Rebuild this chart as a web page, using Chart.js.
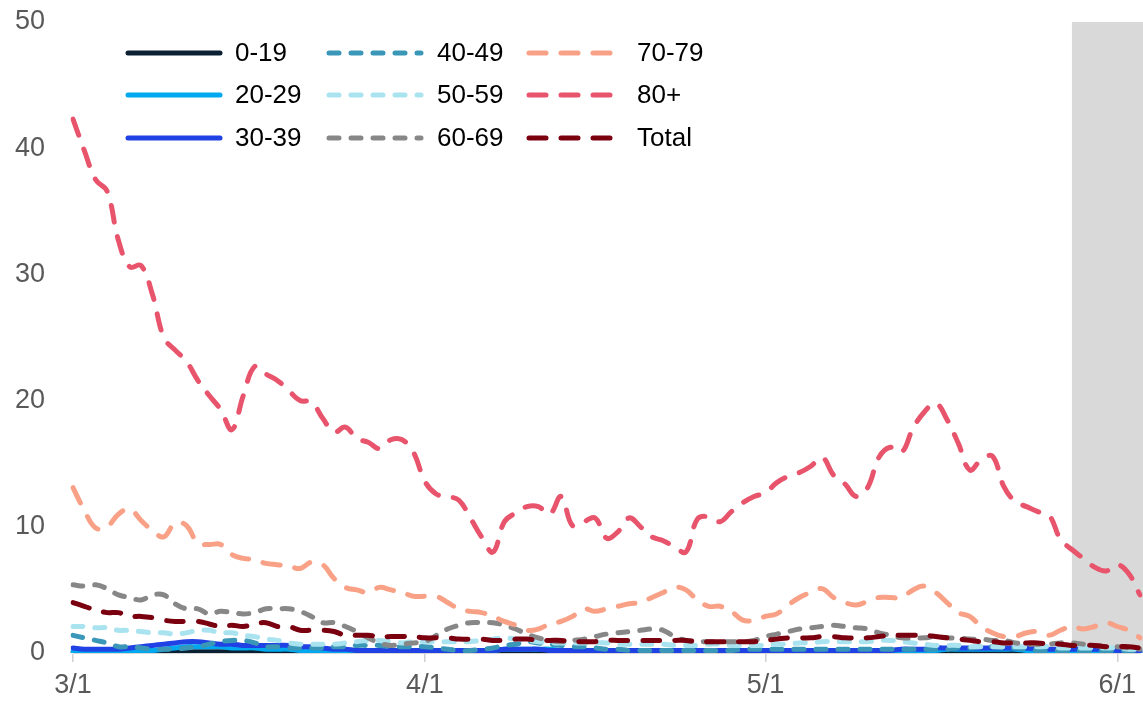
<!DOCTYPE html>
<html>
<head>
<meta charset="utf-8">
<script src="https://cdn.jsdelivr.net/npm/chart.js@4/dist/chart.umd.min.js"></script>
<style>
  html, body { margin: 0; padding: 0; background: #ffffff; }
  #wrap { position: relative; width: 1143px; height: 702px; }
</style>
</head>
<body>
<div id="wrap"><canvas id="c"></canvas></div>
<script>
// Daily dates, 3/1 through 6/3
const monthSpans = [[3, 31], [4, 30], [5, 31], [6, 3]];
const dates = [];
monthSpans.forEach(([m, n]) => { for (let d = 1; d <= n; d++) dates.push(m + '/' + d); });

// Labelled ticks on the date axis
const tickLabels = ['3/1', '4/1', '5/1', '6/1'];
// Start of the shaded (incomplete) period
const shadedFrom = '5/28';

const seriesNames = ['0-19', '20-29', '30-39', '40-49', '50-59', '60-69', '70-79', '80+', 'Total'];

const age0_19 = [0.1,0.1,0.1,0.1,0.1,0.1,0.1,0.1,0.1,0.1, 0.1,0.1,0.1,0.1,0.1,0.1,0.1,0.1,0.1,0.1,
  0.1,0.1,0.1,0.1,0.1,0.1,0.1,0.1,0.1,0.1, 0.1,0.1,0.1,0.1,0.1,0.1,0.1,0.1,0.1,0.1,
  0.1,0.1,0.1,0.1,0.1,0.1,0.1,0.1,0.1,0.1, 0.1,0.1,0.1,0.1,0.1,0.1,0.1,0.1,0.1,0.1,
  0.1,0.1,0.1,0.1,0.1,0.1,0.1,0.1,0.1,0.1, 0.1,0.1,0.1,0.1,0.1,0.1,0.1,0.1,0.1,0.1,
  0.1,0.1,0.1,0.1,0.1,0.1,0.1,0.0,0.0,0.0, 0.0,0.0,0.0,0.0,0.0];
const age20_29 = [0.1,0.1,0.1,0.1,0.1,0.1,0.2,0.2,0.3,0.4, 0.5,0.5,0.5,0.5,0.4,0.4,0.4,0.3,0.3,0.3,
  0.2,0.2,0.2,0.2,0.1,0.1,0.1,0.1,0.1,0.1, 0.1,0.1,0.1,0.1,0.1,0.1,0.1,0.2,0.3,0.3,
  0.3,0.3,0.3,0.2,0.2,0.2,0.1,0.1,0.1,0.1, 0.1,0.1,0.1,0.1,0.1,0.1,0.1,0.1,0.1,0.1,
  0.1,0.1,0.1,0.1,0.1,0.1,0.1,0.1,0.1,0.1, 0.1,0.1,0.1,0.1,0.1,0.2,0.2,0.3,0.3,0.3,
  0.3,0.3,0.3,0.3,0.2,0.2,0.2,0.2,0.2,0.2, 0.2,0.2,0.2,0.2,0.1];
const age30_39 = [0.4,0.3,0.3,0.3,0.3,0.4,0.5,0.6,0.7,0.8, 0.9,0.9,0.8,0.7,0.7,0.6,0.6,0.6,0.6,0.6,
  0.5,0.5,0.4,0.3,0.3,0.2,0.2,0.2,0.2,0.2, 0.2,0.2,0.2,0.2,0.2,0.2,0.2,0.2,0.3,0.3,
  0.3,0.3,0.2,0.2,0.2,0.2,0.2,0.2,0.2,0.2, 0.2,0.2,0.2,0.2,0.2,0.2,0.2,0.2,0.2,0.2,
  0.2,0.2,0.2,0.2,0.2,0.2,0.2,0.2,0.2,0.2, 0.2,0.2,0.2,0.3,0.3,0.3,0.4,0.4,0.4,0.4,
  0.4,0.4,0.4,0.4,0.4,0.3,0.3,0.3,0.3,0.3, 0.3,0.3,0.2,0.2,0.2];
const age40_49 = [1.4,1.2,1.0,0.8,0.5,0.5,0.4,0.3,0.3,0.3, 0.4,0.5,0.7,0.9,1.0,1.0,0.8,0.5,0.5,0.4,
  0.4,0.4,0.4,0.5,0.5,0.6,0.6,0.6,0.5,0.5, 0.5,0.5,0.4,0.3,0.2,0.2,0.3,0.4,0.6,0.7,
  0.9,0.8,0.7,0.6,0.5,0.5,0.4,0.3,0.3,0.2, 0.2,0.2,0.2,0.2,0.2,0.2,0.2,0.2,0.2,0.3,
  0.3,0.3,0.3,0.3,0.3,0.3,0.3,0.3,0.3,0.3, 0.3,0.3,0.3,0.3,0.3,0.3,0.3,0.3,0.4,0.4,
  0.5,0.5,0.4,0.4,0.3,0.2,0.2,0.2,0.2,0.2, 0.2,0.2,0.2,0.2,0.2];
const age50_59 = [2.1,2.1,2.0,2.0,1.8,1.8,1.7,1.6,1.6,1.5, 1.6,1.8,1.8,1.6,1.6,1.4,1.3,1.1,1.0,0.8,
  0.7,0.7,0.7,0.7,0.8,0.9,1.0,1.0,0.9,0.8, 0.9,0.9,0.9,0.9,0.9,0.9,1.0,1.1,1.2,1.1,
  1.0,0.9,0.8,0.8,0.8,0.8,0.8,0.8,0.7,0.7, 0.7,0.7,0.7,0.6,0.6,0.6,0.7,0.7,0.6,0.6,
  0.6,0.6,0.7,0.7,0.8,0.8,0.9,0.9,0.9,0.9, 0.9,1.0,1.0,0.9,0.8,0.7,0.6,0.6,0.6,0.5,
  0.5,0.5,0.5,0.5,0.5,0.5,0.5,0.4,0.4,0.4, 0.4,0.4,0.4,0.3,0.3];
const age60_69 = [5.4,5.3,5.4,5.1,4.6,4.4,4.2,4.6,4.6,3.9, 3.5,3.5,3.1,3.3,3.2,3.1,3.2,3.5,3.5,3.5,
  3.3,2.9,2.4,2.4,2.1,1.7,1.2,0.8,0.6,0.7, 0.8,0.9,1.4,1.9,2.2,2.4,2.4,2.4,2.2,1.9,
  1.5,1.2,1.0,0.9,1.0,1.1,1.3,1.5,1.6,1.7, 1.8,1.9,1.8,1.3,1.0,0.9,0.9,0.9,0.9,0.9,
  1.0,1.3,1.5,1.7,1.9,2.0,2.1,2.2,2.1,2.0, 1.9,1.6,1.4,1.2,1.2,1.2,1.3,1.2,1.2,1.1,
  1.1,1.0,1.0,0.8,0.7,0.7,0.7,0.8,0.8,0.7, 0.6,0.5,0.5,0.4,0.3];
const age70_79 = [13.1,11.3,9.9,10.0,11.0,11.4,10.5,9.7,9.2,10.3, 10.1,8.7,8.6,8.6,7.8,7.5,7.4,7.1,7.0,6.9,
  6.7,7.2,7.0,5.9,5.2,5.0,4.8,5.2,5.0,4.8, 4.5,4.5,4.5,4.0,3.5,3.3,3.2,2.9,2.5,2.2,
  1.8,1.9,2.3,2.5,2.9,3.5,3.3,3.5,3.7,3.9, 4.0,4.4,4.8,5.2,5.0,4.2,3.7,3.7,3.3,2.6,
  2.6,2.9,3.1,3.8,4.4,4.8,5.1,4.4,4.0,3.8, 4.1,4.4,4.4,4.4,5.0,5.3,4.8,4.0,3.2,2.9,
  2.1,1.6,1.3,1.3,1.6,1.7,1.4,1.8,2.1,1.9, 2.1,2.4,2.1,1.8,1.2];
const age80plus = [42.3,39.8,37.5,36.6,32.7,30.6,30.7,28.4,25.0,24.0, 23.1,21.6,20.4,19.3,17.7,20.4,22.7,22.1,21.6,20.8,
  20.0,19.9,18.6,17.5,17.9,17.0,16.7,16.2,16.9,16.9, 15.9,13.6,12.6,12.4,12.1,10.7,9.2,8.0,10.4,11.1,
  11.6,11.6,11.0,12.4,10.1,10.4,10.7,9.1,9.6,10.7, 10.0,9.2,8.9,8.4,8.0,10.6,10.8,10.4,11.2,11.9,
  12.4,12.7,13.5,14.0,14.3,14.8,15.5,14.1,13.4,12.4, 13.1,15.5,16.3,15.9,17.8,19.1,19.8,18.5,16.6,14.5,
  15.3,15.6,13.2,12.0,11.6,11.2,10.9,9.0,8.2,7.5, 6.8,6.5,7.0,6.3,4.6];
const total = [4.0,3.7,3.4,3.2,3.2,2.9,2.9,2.8,2.6,2.5, 2.5,2.5,2.3,2.1,2.2,2.1,2.3,2.4,2.1,2.1,
  1.8,1.8,1.8,1.7,1.4,1.4,1.4,1.3,1.3,1.3, 1.3,1.2,1.2,1.2,1.1,1.1,1.1,1.0,1.0,1.1,
  1.1,1.0,1.0,1.0,0.9,0.9,0.9,1.0,1.0,1.0, 1.0,1.0,1.0,1.0,1.0,0.9,0.9,0.9,0.9,0.9,
  0.9,1.0,1.1,1.2,1.2,1.2,1.3,1.3,1.2,1.2, 1.2,1.3,1.4,1.4,1.4,1.4,1.3,1.2,1.1,1.0,
  0.9,0.9,0.8,0.8,0.8,0.8,0.7,0.7,0.6,0.6, 0.6,0.5,0.5,0.5,0.4];

const seriesValues = [age0_19, age20_29, age30_39, age40_49, age50_59, age60_69, age70_79, age80plus, total];

const FONT = '"Liberation Sans", Arial, sans-serif';
const solid = [];
const shortDash = [10, 12];
const longDash = [17, 15];
const styles = [
  { color: '#0b2033', dash: solid },
  { color: '#00a9ef', dash: solid },
  { color: '#2041e3', dash: solid },
  { color: '#3b97b7', dash: shortDash },
  { color: '#a9e3ef', dash: shortDash },
  { color: '#878787', dash: shortDash },
  { color: '#f9a187', dash: longDash },
  { color: '#e8546c', dash: longDash },
  { color: '#7a0010', dash: longDash }
];

const datasets = seriesNames.map((name, i) => ({
  label: name,
  data: seriesValues[i],
  borderColor: styles[i].color,
  backgroundColor: styles[i].color,
  borderDash: styles[i].dash,
  borderWidth: 5,
  borderCapStyle: 'round',
  borderJoinStyle: 'round',
  pointRadius: 0,
  pointHoverRadius: 0,
  tension: 0.4,
  fill: false,
  order: seriesNames.length - 1 - i
}));

// Grey band over the most recent, still-incomplete days
const shadePlugin = {
  id: 'shade',
  beforeDatasetsDraw(chart) {
    const { ctx, chartArea, scales } = chart;
    const x0 = scales.x.getPixelForValue(dates.indexOf(shadedFrom));
    ctx.save();
    ctx.fillStyle = '#d9d9d9';
    ctx.fillRect(x0, chartArea.top, chart.width - x0, chartArea.bottom - chartArea.top);
    ctx.restore();
  }
};

// Three-column legend in the upper-left corner
const gridLegend = {
  id: 'gridLegend',
  afterDraw(chart) {
    const ctx = chart.ctx;
    const cols = [{ lineX: 128, textX: 235 }, { lineX: 329, textX: 437 }, { lineX: 529, textX: 637 }];
    const rows = [53, 95, 138];
    const len = 92;
    chart.data.datasets.forEach((ds, i) => {
      const c = cols[Math.floor(i / 3)];
      const y = rows[i % 3];
      ctx.save();
      ctx.strokeStyle = ds.borderColor;
      ctx.lineWidth = ds.borderWidth;
      ctx.lineCap = 'round';
      ctx.setLineDash(ds.borderDash);
      ctx.beginPath();
      ctx.moveTo(c.lineX, y);
      ctx.lineTo(c.lineX + len, y);
      ctx.stroke();
      ctx.setLineDash([]);
      ctx.fillStyle = '#000000';
      ctx.font = '26px ' + FONT;
      ctx.textBaseline = 'middle';
      ctx.textAlign = 'left';
      ctx.fillText(ds.label, c.textX, y + 1);
      ctx.restore();
    });
  }
};

new Chart(document.getElementById('c'), {
  type: 'line',
  data: { labels: dates, datasets },
  plugins: [shadePlugin, gridLegend],
  options: {
    responsive: true,
    maintainAspectRatio: false,
    animation: false,
    events: [],
    layout: { padding: { top: 22, right: 3, bottom: 0, left: 0 } },
    plugins: { legend: { display: false }, tooltip: { enabled: false } },
    scales: {
      x: {
        type: 'category',
        offset: false,
        afterFit(scale) { scale.height = 49; scale.paddingLeft = 0; scale.paddingRight = 0; },
        grid: { drawOnChartArea: false, drawTicks: true, tickLength: 9, color: '#d0d0d0', lineWidth: 1.5 },
        border: { display: true, color: '#d9d9d9', width: 1 },
        ticks: {
          autoSkip: false,
          maxRotation: 0,
          padding: 7,
          color: '#595959',
          font: { family: FONT, size: 27 },
          callback(value) {
            const lab = this.getLabelForValue(value);
            return tickLabels.includes(lab) ? lab : null;
          }
        }
      },
      y: {
        min: 0,
        max: 50,
        afterFit(scale) { scale.width = 73; scale.paddingTop = 0; scale.paddingBottom = 0; },
        grid: { display: false },
        border: { display: false },
        ticks: {
          stepSize: 10,
          padding: 20,
          color: '#595959',
          font: { family: FONT, size: 27 }
        }
      }
    }
  }
});
</script>
</body>
</html>
